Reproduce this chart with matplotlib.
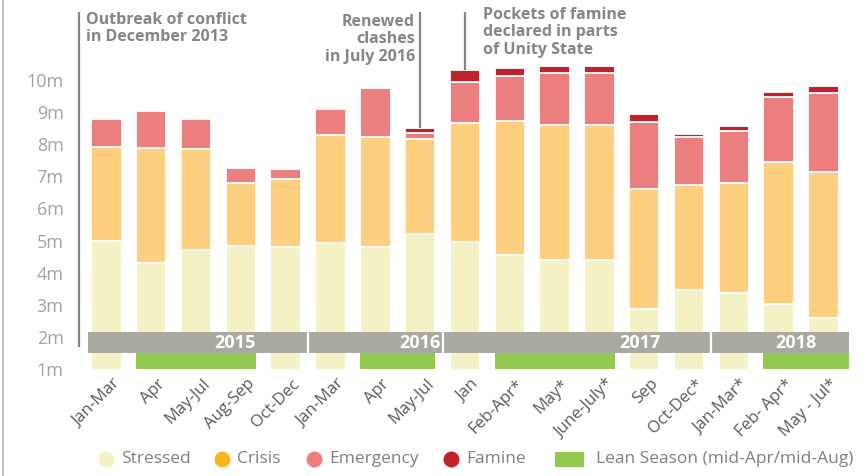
import matplotlib
matplotlib.use('Agg')
import matplotlib.pyplot as plt
import numpy as np
from matplotlib.transforms import blended_transform_factory, ScaledTranslation
from matplotlib.patches import Rectangle
from matplotlib.lines import Line2D

plt.rcParams['font.family'] = ['Open Sans', 'DejaVu Sans']

# ---------------- data ----------------
periods = ["Jan-Mar", "Apr", "May-Jul", "Aug-Sep", "Oct-Dec",
           "Jan-Mar", "Apr", "May-Jul",
           "Jan", "Feb-Apr*", "May*", "June-July*", "Sep", "Oct-Dec*",
           "Jan-Mar*", "Feb- Apr*", "May - Jul*"]
years = [2015] * 5 + [2016] * 3 + [2017] * 6 + [2018] * 3

stressed = [4.99, 4.31, 4.70, 4.84, 4.81, 4.92, 4.81, 5.20, 4.95, 4.55, 4.39, 4.39, 2.86, 3.46, 3.36, 3.01, 2.60]
crisis = [2.92, 3.58, 3.16, 1.94, 2.12, 3.37, 3.42, 2.95, 3.72, 4.18, 4.22, 4.20, 3.75, 3.26, 3.44, 4.44, 4.53]
emergency = [0.88, 1.14, 0.93, 0.47, 0.29, 0.81, 1.51, 0.19, 1.27, 1.39, 1.60, 1.62, 2.08, 1.50, 1.60, 2.03, 2.47]
famine = [0, 0, 0, 0, 0, 0, 0, 0.16, 0.37, 0.25, 0.23, 0.23, 0.25, 0.10, 0.17, 0.15, 0.21]

# lean season spans (first period index, last period index)
lean_seasons = [(1, 3), (6, 7), (9, 11), (15, 16)]

ytick_values = [1, 2, 3, 4, 5, 6, 7, 8, 9, 10]
ytick_labels = ["1m", "2m", "3m", "4m", "5m", "6m", "7m", "8m", "9m", "10m"]

series_names = ["Stressed", "Crisis", "Emergency", "Famine"]
bar_colors = ["#f4f1c4", "#fdcf7e", "#eb7f7f", "#c1232b"]
legend_colors = ["#f4f1c4", "#fdb51b", "#eb7f7f", "#c1232b"]
lean_label = "Lean Season (mid-Apr/mid-Aug)"
lean_color = "#93c94f"
band_color = "#a9a99f"

event_outbreak = "Outbreak of conflict\nin December 2013"
event_clashes = "Renewed\nclashes\nin July 2016"
event_famine = "Pockets of famine\ndeclared in parts\nof Unity State"
clash_index = 7
famine_index = 8

# ---------------- figure ----------------
W, H = 868, 476
fig = plt.figure(figsize=(W / 100, H / 100), dpi=100)
ax = fig.add_axes([79 / W, (H - 369) / H, 771 / W, 359 / H])

n = len(periods)
x = np.arange(n)
w = 0.68
ann_color = "#858585"

bottom = np.zeros(n)
for vals, col in zip([stressed, crisis, emergency, famine], bar_colors):
    v = np.array(vals, dtype=float)
    m = v > 0
    ax.bar(x[m], v[m], w, bottom=bottom[m], color=col, edgecolor="white",
           linewidth=1.3, zorder=2)
    bottom += v
totals = bottom.copy()

ax.set_xlim(-0.609, 16.59)
ax.set_ylim(1.0, 12.18)

# year band
band_lo, band_hi = 1.49, 2.16
band_left, band_right = -0.40, n - 1 + 0.56
ax.add_patch(Rectangle((band_left, band_lo), band_right - band_left, band_hi - band_lo,
                       facecolor=band_color, edgecolor="none", zorder=3))
for i in range(n - 1):
    if years[i] != years[i + 1]:
        ax.plot([i + 0.5, i + 0.5], [band_lo, band_hi], color="white", lw=1.6,
                zorder=4, solid_capstyle="butt")
year_label_x = {2015: 2.88, 2016: 7.0, 2017: 11.9, 2018: 15.39}
for yr, xc in year_label_x.items():
    ax.text(xc, (band_lo + band_hi) / 2 - 0.02, str(yr), color="white", fontsize=13,
            fontweight="bold", ha="center", va="center", zorder=5)

# lean season bars
for a, b in lean_seasons:
    left = a - w / 2
    right = band_right if b == n - 1 else b + w / 2
    ax.add_patch(Rectangle((left, 1.0), right - left, band_lo - 1.0,
                           facecolor=lean_color, edgecolor="none", zorder=3,
                           clip_on=False))

# axes styling
for s in ax.spines.values():
    s.set_visible(False)
ax.set_yticks(ytick_values)
ax.set_yticklabels(ytick_labels)
ax.tick_params(axis="y", length=0, pad=11, labelsize=13, labelcolor="#a3a3a3")
ax.set_xticks(x)
ax.set_xticklabels(periods, rotation=45, ha="right", va="top",
                   rotation_mode="anchor")
ax.tick_params(axis="x", length=0, pad=5, labelsize=12, labelcolor="#5a5a5a")
offset = ScaledTranslation(6 / 100, 0, fig.dpi_scale_trans)
for lbl in ax.get_xticklabels():
    lbl.set_transform(lbl.get_transform() + offset)

# event lines / annotations
top_y = 12.12
blend = blended_transform_factory(ax.transAxes, ax.transData)
ax.plot([0, 0], [1.68, top_y], transform=blend, color=ann_color, lw=1.6,
        clip_on=False, zorder=6, solid_capstyle="butt")
ax.annotate(event_outbreak, xy=(0, top_y), xycoords=blend, xytext=(7, 0),
            textcoords="offset pixels", ha="left", va="top", fontsize=11.5,
            fontweight="bold", color=ann_color, linespacing=1.12,
            annotation_clip=False)

ax.plot([clash_index, clash_index], [totals[clash_index], top_y], color=ann_color,
        lw=1.6, clip_on=False, zorder=6, solid_capstyle="butt")
ax.annotate(event_clashes, xy=(clash_index, top_y), xytext=(-5, -2),
            textcoords="offset pixels", ha="right", va="top", fontsize=11.5,
            fontweight="bold", color=ann_color, linespacing=1.12,
            multialignment="right", annotation_clip=False)

ax.plot([famine_index, famine_index], [totals[famine_index], top_y], color=ann_color,
        lw=1.6, clip_on=False, zorder=6, solid_capstyle="butt")
ax.annotate(event_famine, xy=(famine_index, top_y), xytext=(18, 5),
            textcoords="offset pixels", ha="left", va="top", fontsize=11.5,
            fontweight="bold", color=ann_color, linespacing=1.12,
            annotation_clip=False)

# page frame line on the left
fig.add_artist(Line2D([3 / W, 3 / W], [0, 1], color="#c4c4c4", lw=1.5))

# legend (manual)
ly = (H - 459) / H
marker_x = [106, 221.7, 314, 451]
for name, col, mx in zip(series_names, legend_colors, marker_x):
    fig.add_artist(Line2D([mx / W], [ly], marker="o", markersize=11.5,
                          markerfacecolor=col, markeredgecolor="none", linestyle="none"))
    fig.text((mx + 15) / W, ly, name, fontsize=12.5, color="#7f7f7f",
             ha="left", va="center")
fig.add_artist(Rectangle((555 / W, (H - 467) / H), 29 / W, 15 / H,
                         facecolor=lean_color, edgecolor="none",
                         transform=fig.transFigure))
fig.text(596 / W, ly, lean_label, fontsize=12.5, color="#7f7f7f", ha="left", va="center")

fig.savefig("out.png", dpi=100)
